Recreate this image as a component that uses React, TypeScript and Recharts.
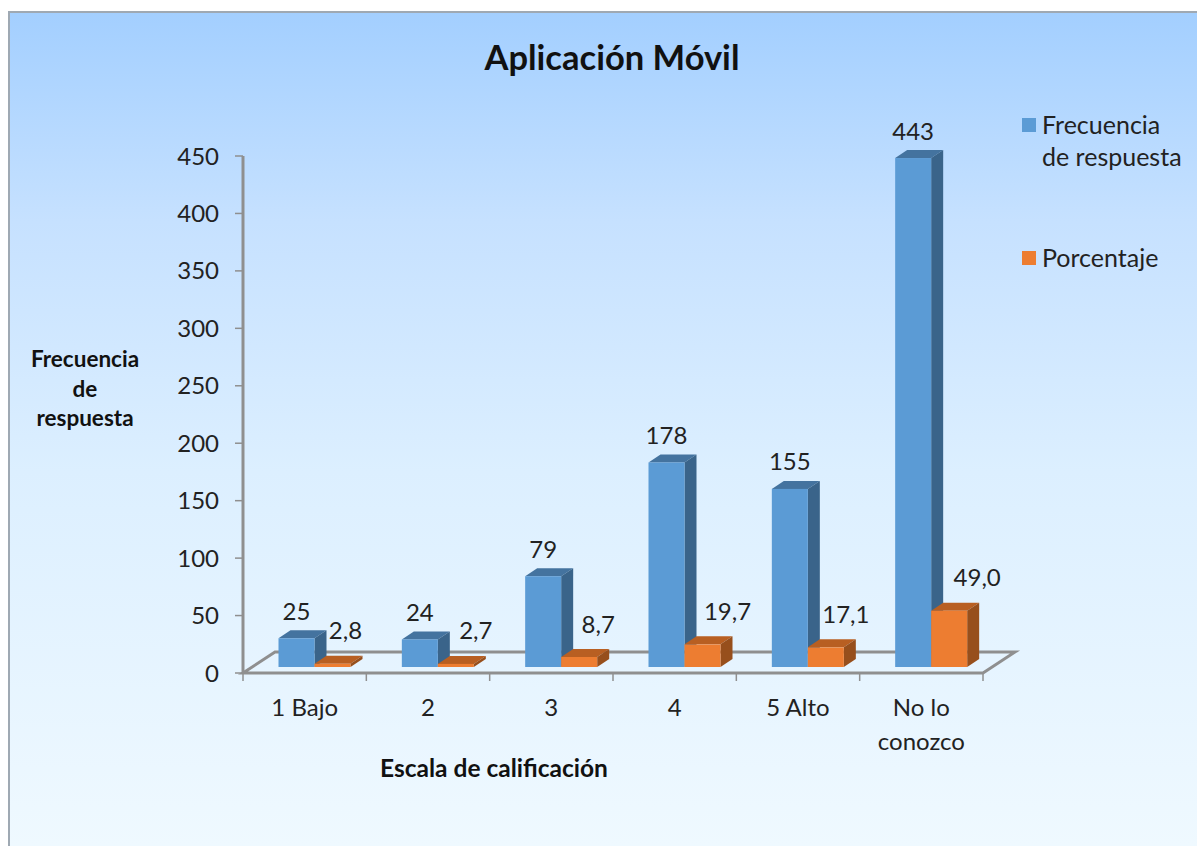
import { BarChart, Bar, XAxis, YAxis, LabelList, Legend, ReferenceLine } from "recharts"

const categories = ["1 Bajo", "2", "3", "4", "5 Alto", "No lo conozco"]
const frecuencia = [25, 24, 79, 178, 155, 443]
const porcentaje = [2.8, 2.7, 8.7, 19.7, 17.1, 49.0]
const yTicks = [0, 50, 100, 150, 200, 250, 300, 350, 400, 450]

const data = categories.map((name, i) => ({
  name,
  frecuencia: frecuencia[i],
  porcentaje: porcentaje[i],
}))

const FONT = "Lato, 'Open Sans', sans-serif"
const TEXT = "#222222"
const AXIS = "#8f8f8f"
const BAND = 740 / 6
const DEPTH_X = 12
const DEPTH_Y = 8
const SHIFT_X = 9.5
const SHIFT_Y = -6
const LABEL_SIZE = 24
// excel had these labels dragged around by hand, so each one sits a bit differently
const pctNudge = [13, 20, 19, 25, 20, 28]

const make3dBar = (front: string, top: string, side: string) => (props: any) => {
  const x = props.x + SHIFT_X
  const y = props.y + SHIFT_Y
  const w = props.width
  const h = props.height
  return (
    <g>
      <polygon points={`${x},${y} ${x + DEPTH_X},${y - DEPTH_Y} ${x + w + DEPTH_X},${y - DEPTH_Y} ${x + w},${y}`} fill={top} />
      <polygon points={`${x + w},${y} ${x + w + DEPTH_X},${y - DEPTH_Y} ${x + w + DEPTH_X},${y + h - DEPTH_Y} ${x + w},${y + h}`} fill={side} />
      <rect x={x} y={y} width={w} height={h} fill={front} />
    </g>
  )
}

const FreqLabel = (props: any) => (
  <text x={props.x + props.width / 2 + SHIFT_X} y={props.y + SHIFT_Y - 28} textAnchor="middle" dominantBaseline="central"
    fontFamily={FONT} fontSize={LABEL_SIZE} fill={TEXT}>
    {props.value}
  </text>
)

const PctLabel = (props: any) => (
  <text x={props.x + props.width / 2 + SHIFT_X + pctNudge[props.index]} y={props.y - 40} textAnchor="middle" dominantBaseline="central"
    fontFamily={FONT} fontSize={LABEL_SIZE} fill={TEXT}>
    {Number(props.value).toFixed(1).replace(".", ",")}
  </text>
)

const Floor = (props: any) => {
  const { x1, y1, x2, y2 } = props
  const points = `${x1},${y1} ${x1 + 32},${y1 - 21} ${x2 + 32},${y2 - 21} ${x2},${y2}`
  return <polygon points={points} fill="none" stroke={AXIS} strokeWidth={3} />
}

const CategoryTick = (props: any) => {
  const { x, y, payload } = props
  const left = x - BAND / 2
  const words: string[] = payload.value === "No lo conozco" ? ["No lo", "conozco"] : [payload.value]
  return (
    <g>
      <line x1={left} y1={673} x2={left} y2={681} stroke={AXIS} strokeWidth={1.5} />
      {payload.index === categories.length - 1 && (
        <line x1={left + BAND} y1={673} x2={left + BAND} y2={681} stroke={AXIS} strokeWidth={1.5} />
      )}
      {words.map((w, i) => (
        <text key={w} x={x} y={y + 25 + i * 34} textAnchor="middle" dominantBaseline="central"
          fontFamily={FONT} fontSize={LABEL_SIZE} fill={TEXT}>
          {w}
        </text>
      ))}
    </g>
  )
}

const LegendBox = ({ payload }: any) => (
  <div style={{ fontFamily: FONT, fontSize: 25, color: TEXT, lineHeight: "32px" }}>
    {(payload || []).map((p: any, i: number) => (
      <div key={p.value} style={{ display: "flex", alignItems: "flex-start", height: i === 0 ? 133 : 40 }}>
        <span style={{ width: 14, height: 14, marginTop: 10, marginRight: 6, background: p.color, flex: "none" }} />
        <span style={{ width: 150 }}>{p.value}</span>
      </div>
    ))}
  </div>
)

const caption = (text: string, cx: number, cy: number, size: number) => (
  <div key={text} style={{
    position: "absolute", left: cx - 200, top: cy - 20, width: 400, height: 40, lineHeight: "40px",
    textAlign: "center", fontFamily: FONT, fontWeight: 700, fontSize: size, color: "#111111",
  }}>
    {text}
  </div>
)

export default function App() {
  return (
    <div style={{ position: "absolute", left: 0, top: 0, width: 1197, height: 846, overflow: "hidden", background: "#ffffff" }}>
      <div style={{
        position: "absolute", left: 8, top: 11, width: 1189, height: 835, boxSizing: "border-box",
        borderLeft: "2px solid #9fa9b3", borderTop: "2px solid #9fa9b3",
        background: "linear-gradient(180deg, #a3cfff 0%, #c6e1ff 25%, #dcefff 55%, #eff9ff 100%)",
      }} />
      {caption("Aplicación Móvil", 612, 57, 34.5)}
      {caption("Frecuencia", 85, 359, 22.5)}
      {caption("de", 85, 389, 22.5)}
      {caption("respuesta", 85, 418, 22.5)}
      {caption("Escala de calificación", 494, 768, 24.5)}
      <div style={{ position: "absolute", left: 0, top: 0 }}>
        <BarChart width={1197} height={846} data={data} barSize={36} barGap={0}
          margin={{ top: 156, right: 214, bottom: 113, left: 183 }}>
          <XAxis dataKey="name" height={60} interval={0} axisLine={false} tickLine={false} tick={<CategoryTick />} />
          <YAxis width={60} domain={[0, 450]} ticks={yTicks} interval={0} axisLine={{ stroke: AXIS, strokeWidth: 3 }}
            tickLine={{ stroke: AXIS, strokeWidth: 1.5 }} tickSize={8} tickMargin={16}
            tick={{ fontFamily: FONT, fontSize: LABEL_SIZE, fill: TEXT }} />
          <ReferenceLine y={0} shape={<Floor />} zIndex={100} />
          <Legend layout="horizontal" verticalAlign="middle" align="center" content={<LegendBox />}
            wrapperStyle={{ position: "absolute", left: 1022, top: 108, width: 175, bottom: "auto", right: "auto" }} />
          <Bar dataKey="frecuencia" name="Frecuencia de respuesta" fill="#5b9bd5" isAnimationActive={false}
            shape={make3dBar("#5b9bd5", "#44739f", "#3a648a")}>
            <LabelList dataKey="frecuencia" content={<FreqLabel />} />
          </Bar>
          <Bar dataKey="porcentaje" name="Porcentaje" fill="#ed7d31" isAnimationActive={false}
            shape={make3dBar("#ed7d31", "#b85f22", "#974f1c")}>
            <LabelList dataKey="porcentaje" content={<PctLabel />} />
          </Bar>
        </BarChart>
      </div>
    </div>
  )
}
